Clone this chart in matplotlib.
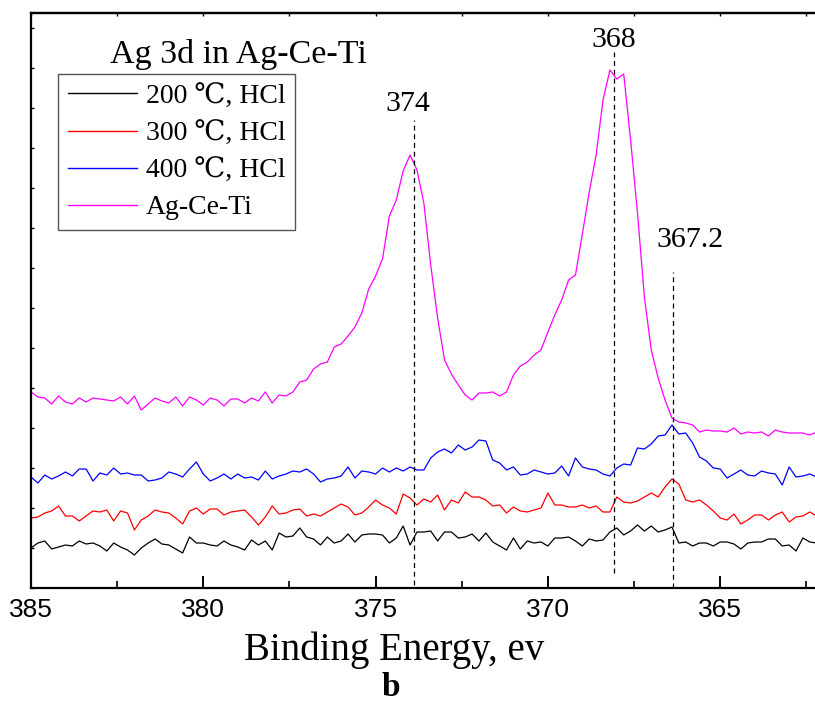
import numpy as np
import matplotlib
matplotlib.use('Agg')
import matplotlib.pyplot as plt
from matplotlib.ticker import MultipleLocator

# ---------------- data ----------------
energy = np.round(np.arange(385.0, 362.1, -0.2), 1)   # binding energy grid, eV (115 points)

series_labels = ["200 \u2103, HCl", "300 \u2103, HCl", "400 \u2103, HCl", "Ag-Ce-Ti"]
series_colors = ["black", "#ff0000", "#0000ff", "#ff00ff"]

int_200 = [40, 45, 47, 39, 41, 43, 42, 47, 44, 45,
           42, 37, 45, 41, 38, 33, 40, 45, 49, 44,
           43, 39, 35, 51, 45, 45, 43, 42, 47, 43,
           41, 38, 48, 43, 47, 38, 55, 51, 52, 60,
           51, 49, 43, 51, 45, 47, 54, 46, 53, 54,
           54, 53, 45, 50, 62, 43, 56, 56, 57, 47,
           56, 56, 50, 51, 54, 47, 55, 46, 42, 38,
           50, 39, 47, 45, 46, 42, 50, 50, 51, 47,
           42, 49, 47, 48, 56, 60, 53, 57, 63, 57,
           62, 56, 58, 61, 45, 46, 42, 45, 45, 42,
           46, 46, 44, 39, 45, 46, 46, 49, 49, 42,
           43, 37, 50, 46, 45]

int_300 = [70, 71, 75, 77, 82, 72, 72, 67, 72, 77,
           76, 78, 67, 77, 75, 58, 68, 72, 78, 76,
           75, 70, 64, 77, 80, 74, 79, 79, 73, 76,
           77, 78, 71, 63, 71, 82, 74, 75, 78, 79,
           72, 74, 72, 76, 80, 84, 81, 73, 75, 81,
           88, 83, 80, 74, 94, 90, 83, 89, 86, 93,
           78, 88, 85, 96, 91, 91, 88, 82, 83, 75,
           81, 77, 76, 78, 80, 95, 83, 83, 81, 81,
           83, 80, 82, 76, 76, 91, 86, 85, 87, 91,
           95, 91, 101, 109, 104, 88, 86, 88, 83, 77,
           70, 68, 74, 64, 68, 73, 73, 68, 73, 76,
           66, 71, 72, 76, 72]

int_400 = [111, 105, 113, 109, 112, 116, 112, 119, 119, 107,
           115, 113, 120, 114, 115, 113, 113, 107, 108, 110,
           116, 114, 111, 119, 126, 114, 107, 110, 114, 109,
           114, 110, 111, 108, 117, 109, 112, 114, 117, 116,
           119, 114, 106, 109, 110, 112, 121, 110, 117, 116,
           114, 120, 116, 120, 117, 121, 118, 118, 130, 136,
           139, 135, 143, 138, 141, 148, 147, 128, 125, 118,
           121, 113, 114, 118, 116, 114, 115, 122, 112, 130,
           121, 119, 118, 114, 112, 120, 124, 123, 140, 139,
           144, 152, 153, 163, 154, 155, 145, 131, 127, 120,
           119, 110, 114, 118, 113, 112, 117, 115, 114, 103,
           121, 111, 112, 114, 111]

int_agceti = [196, 191, 190, 184, 192, 186, 184, 190, 186, 190,
              189, 188, 187, 191, 184, 192, 178, 184, 190, 187,
              185, 191, 182, 191, 188, 183, 190, 188, 182, 189,
              189, 185, 190, 187, 196, 185, 193, 192, 196, 206,
              208, 219, 224, 226, 241, 244, 252, 261, 275, 299,
              312, 329, 372, 388, 417, 433, 418, 385, 323, 270,
              228, 214, 203, 193, 188, 195, 195, 196, 192, 196,
              213, 222, 226, 233, 238, 256, 273, 288, 308, 313,
              354, 396, 433, 488, 518, 509, 514, 448, 375, 291,
              238, 210, 188, 170, 166, 165, 163, 156, 158, 157,
              157, 156, 160, 154, 156, 155, 156, 152, 158, 156,
              155, 155, 155, 153, 156]

# peak guide lines: position (eV), label, top and bottom of the dashed line (a.u.)
peak_pos = [373.9, 368.08, 366.37]
peak_text = ["374", "368", "367.2"]
peak_top = [468, 536, 316]
peak_bottom = [3, 15, 0]
peak_text_x = [374.05, 368.08, 365.88]
peak_text_y = [484, 548, 348]

x_ticks = [385, 380, 375, 370, 365]
x_tick_labels = ["385", "380", "375", "370", "365"]

# ---------------- figure ----------------
W, H = 815, 702
fig = plt.figure(figsize=(W / 100, H / 100), dpi=100)
ax = fig.add_axes([31 / W, 114 / H, 784 / W, 575 / H])

serif = ['Liberation Serif', 'DejaVu Serif']
narrow = ['Liberation Sans Narrow', 'Liberation Sans']

for y, c, lab in zip([int_200, int_300, int_400, int_agceti], series_colors, series_labels):
    ax.plot(energy, y, color=c, lw=0.9, label=lab)

for p, t, top, bot, tx, ty in zip(peak_pos, peak_text, peak_top, peak_bottom, peak_text_x, peak_text_y):
    ax.plot([p, p], [bot, top], color='black', lw=0.9, ls=(0, (4, 3)))
    ax.text(tx, ty, t, ha='center', va='center', fontsize=21.5, family=serif)

ax.set_xlim(385, 385 - 784 / 34.46)
ax.set_ylim(0, 575)

for s in ['left', 'bottom', 'top']:
    ax.spines[s].set_linewidth(1.6)
ax.spines['right'].set_visible(False)

ax.set_xticks(x_ticks)
ax.set_xticklabels(x_tick_labels, family=narrow, fontsize=19)
ax.xaxis.set_minor_locator(MultipleLocator(2.5))
ax.tick_params(axis='x', which='major', direction='in', length=8.5, width=1.4, pad=7)
ax.tick_params(axis='x', which='minor', direction='in', length=5, width=1.2)
ax.yaxis.set_major_locator(MultipleLocator(40))
ax.tick_params(axis='y', which='major', direction='in', length=2.5, width=1.0, labelleft=False)

top = ax.secondary_xaxis('top')
top.set_xticks(x_ticks)
top.xaxis.set_minor_locator(MultipleLocator(2.5))
top.tick_params(which='both', direction='in', length=2.5, width=1.0, labeltop=False)
top.spines['top'].set_linewidth(1.6)

leg = ax.legend(loc='upper left', bbox_to_anchor=(58 / W, 1 - 74 / H), bbox_transform=fig.transFigure,
                prop={'family': serif, 'size': 20}, frameon=True, fancybox=False,
                edgecolor='#555555', framealpha=1, borderpad=0.35, labelspacing=0.42,
                handlelength=2.5, handletextpad=0.3, borderaxespad=0)
leg.get_frame().set_linewidth(1.0)
for ln in leg.get_lines():
    ln.set_linewidth(1.0)

fig.text(110 / W, 1 - 63 / H, "Ag 3d in Ag-Ce-Ti", fontsize=24.5, family=serif, va='baseline', ha='left')
fig.text(394 / W, 1 - 650 / H, "Binding Energy, ev", fontsize=28, family=serif, ha='center', va='center')
fig.text(391 / W, 1 - 688 / H, "b", fontsize=24, family=serif, weight='bold', ha='center', va='center')

fig.savefig('out.png', dpi=100)
